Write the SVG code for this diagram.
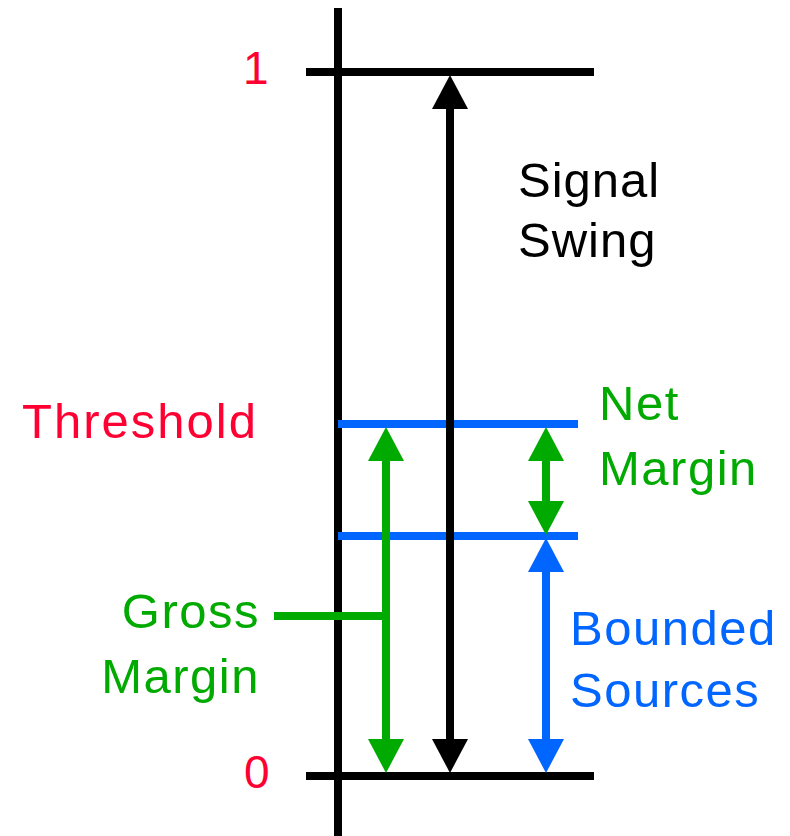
<svg xmlns="http://www.w3.org/2000/svg" width="790" height="836" viewBox="0 0 790 836">
  <style>
    .lbl { font-family: "Liberation Sans", Arial, sans-serif; font-size: 49px; letter-spacing: 1.5px; }
    .num { font-family: "Liberation Sans", Arial, sans-serif; font-size: 46px; }
    .red { fill: #ff0033; }
    .grn { fill: #00aa00; }
    .blu { fill: #0066ff; }
    .blk { fill: #000000; }
    .ln { stroke-width: 8; fill: none; stroke-linecap: butt; }
  </style>
  <defs>
    <marker id="hk" markerUnits="userSpaceOnUse" viewBox="0 0 34 36" markerWidth="34" markerHeight="36" refX="1" refY="18" orient="auto-start-reverse">
      <path d="M0,0 L34,18 L0,36 z" fill="#000000"/>
    </marker>
    <marker id="hg" markerUnits="userSpaceOnUse" viewBox="0 0 34 36" markerWidth="34" markerHeight="36" refX="1" refY="18" orient="auto-start-reverse">
      <path d="M0,0 L34,18 L0,36 z" fill="#00aa00"/>
    </marker>
    <marker id="hb" markerUnits="userSpaceOnUse" viewBox="0 0 34 36" markerWidth="34" markerHeight="36" refX="1" refY="18" orient="auto-start-reverse">
      <path d="M0,0 L34,18 L0,36 z" fill="#0066ff"/>
    </marker>
  </defs>

  <g id="axis">
    <line class="ln" x1="338" y1="8" x2="338" y2="836" stroke="#000"/>
  </g>
  <g id="level-1">
    <line class="ln" x1="306" y1="72" x2="594" y2="72" stroke="#000"/>
    <text class="num red" x="243" y="84">1</text>
  </g>
  <g id="level-0">
    <line class="ln" x1="306" y1="776" x2="594" y2="776" stroke="#000"/>
    <text class="num red" x="244" y="788">0</text>
  </g>
  <g id="threshold">
    <line class="ln" x1="338" y1="424" x2="578" y2="424" stroke="#0066ff"/>
    <text class="lbl red" x="22" y="438" style="letter-spacing:2px">Threshold</text>
  </g>
  <g id="noise-level">
    <line class="ln" x1="338" y1="536" x2="578" y2="536" stroke="#0066ff"/>
  </g>
  <g id="signal-swing">
    <text class="lbl blk" x="518" y="197" style="letter-spacing:1px">Signal</text>
    <text class="lbl blk" x="518" y="257" style="letter-spacing:1px">Swing</text>
  </g>
  <g id="net-margin">
    <text class="lbl grn" x="599" y="420">Net</text>
    <text class="lbl grn" x="599" y="485">Margin</text>
  </g>
  <g id="bounded-sources">
    <text class="lbl blu" x="570" y="645">Bounded</text>
    <text class="lbl blu" x="570" y="707">Sources</text>
  </g>
  <g id="gross-margin">
    <text class="lbl grn" x="260" y="628" text-anchor="end">Gross</text>
    <text class="lbl grn" x="260" y="693" text-anchor="end">Margin</text>
  </g>

  <g id="connectors">
    <line class="ln" x1="450" y1="108" x2="450" y2="740" stroke="#000" marker-start="url(#hk)" marker-end="url(#hk)"/>
    <line class="ln" x1="386" y1="460" x2="386" y2="740" stroke="#00aa00" marker-start="url(#hg)" marker-end="url(#hg)"/>
    <line class="ln" x1="546" y1="460" x2="546" y2="502" stroke="#00aa00" marker-start="url(#hg)" marker-end="url(#hg)"/>
    <line class="ln" x1="546" y1="571" x2="546" y2="740" stroke="#0066ff" marker-start="url(#hb)" marker-end="url(#hb)"/>
    <line class="ln" x1="274" y1="616" x2="386" y2="616" stroke="#00aa00"/>
  </g>
</svg>
